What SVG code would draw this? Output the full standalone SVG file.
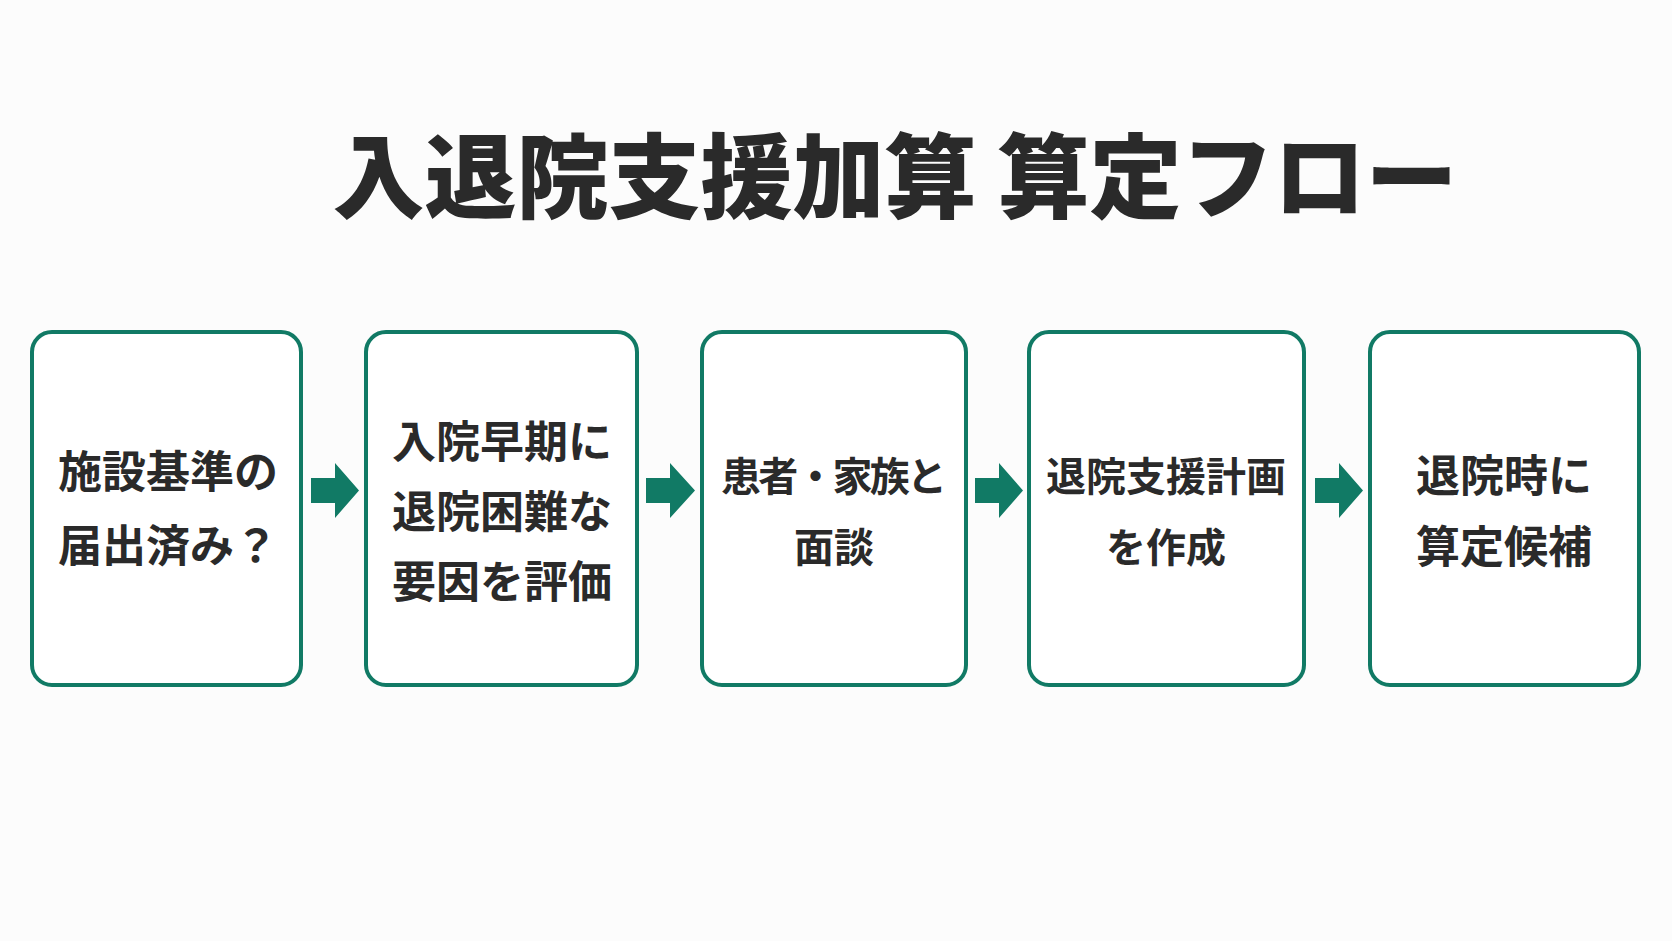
<svg xmlns="http://www.w3.org/2000/svg" width="1672" height="941" viewBox="0 0 1672 941">
<style>
.bg{fill:#fcfcfc}
.box{fill:#ffffff;stroke:#117a65;stroke-width:4}
.arrow{fill:#117a65}
.title{font-family:"Noto Sans CJK JP","Noto Sans CJK SC",sans-serif;font-weight:900;font-size:92px;fill:#2a2a2a;text-anchor:middle}
.lbl{font-family:"Noto Sans CJK JP","Noto Sans CJK SC",sans-serif;font-weight:700;font-size:44px;fill:#2a2a2a;text-anchor:middle}
.sm{font-size:40px}
</style>
<rect class="bg" x="0" y="0" width="1672" height="941"/>
<text id="title" class="title" x="895" y="211">入退院支援加算 算定フロー</text>
<g id="n1">
<rect class="box" x="32" y="332" width="269" height="353" rx="20"/>
<text class="lbl" x="168" y="488">施設基準の</text>
<text class="lbl" x="168" y="562">届出済み？</text>
</g>
<g id="n2">
<rect class="box" x="366" y="332" width="271" height="353" rx="20"/>
<text class="lbl" x="502" y="458">入院早期に</text>
<text class="lbl" x="502" y="528">退院困難な</text>
<text class="lbl" x="502" y="598">要因を評価</text>
</g>
<g id="n3">
<rect class="box" x="702" y="332" width="264" height="353" rx="20"/>
<text class="lbl sm" x="834" y="491" textLength="226" lengthAdjust="spacing">患者・家族と</text>
<text class="lbl sm" x="834" y="562">面談</text>
</g>
<g id="n4">
<rect class="box" x="1029" y="332" width="275" height="353" rx="20"/>
<text class="lbl sm" x="1166" y="491">退院支援計画</text>
<text class="lbl sm" x="1166" y="562">を作成</text>
</g>
<g id="n5">
<rect class="box" x="1370" y="332" width="269" height="353" rx="20"/>
<text class="lbl" x="1504" y="492">退院時に</text>
<text class="lbl" x="1504" y="563">算定候補</text>
</g>
<g id="connectors">
<polygon class="arrow" points="311,478 335,478 335,463 359,490.5 335,518 335,503 311,503"/>
<polygon class="arrow" points="646,478 670,478 670,463 695,490.5 670,518 670,503 646,503"/>
<polygon class="arrow" points="975,478 999,478 999,463 1023,490.5 999,518 999,503 975,503"/>
<polygon class="arrow" points="1315,478 1339,478 1339,463 1363,490.5 1339,518 1339,503 1315,503"/>
</g>
</svg>
